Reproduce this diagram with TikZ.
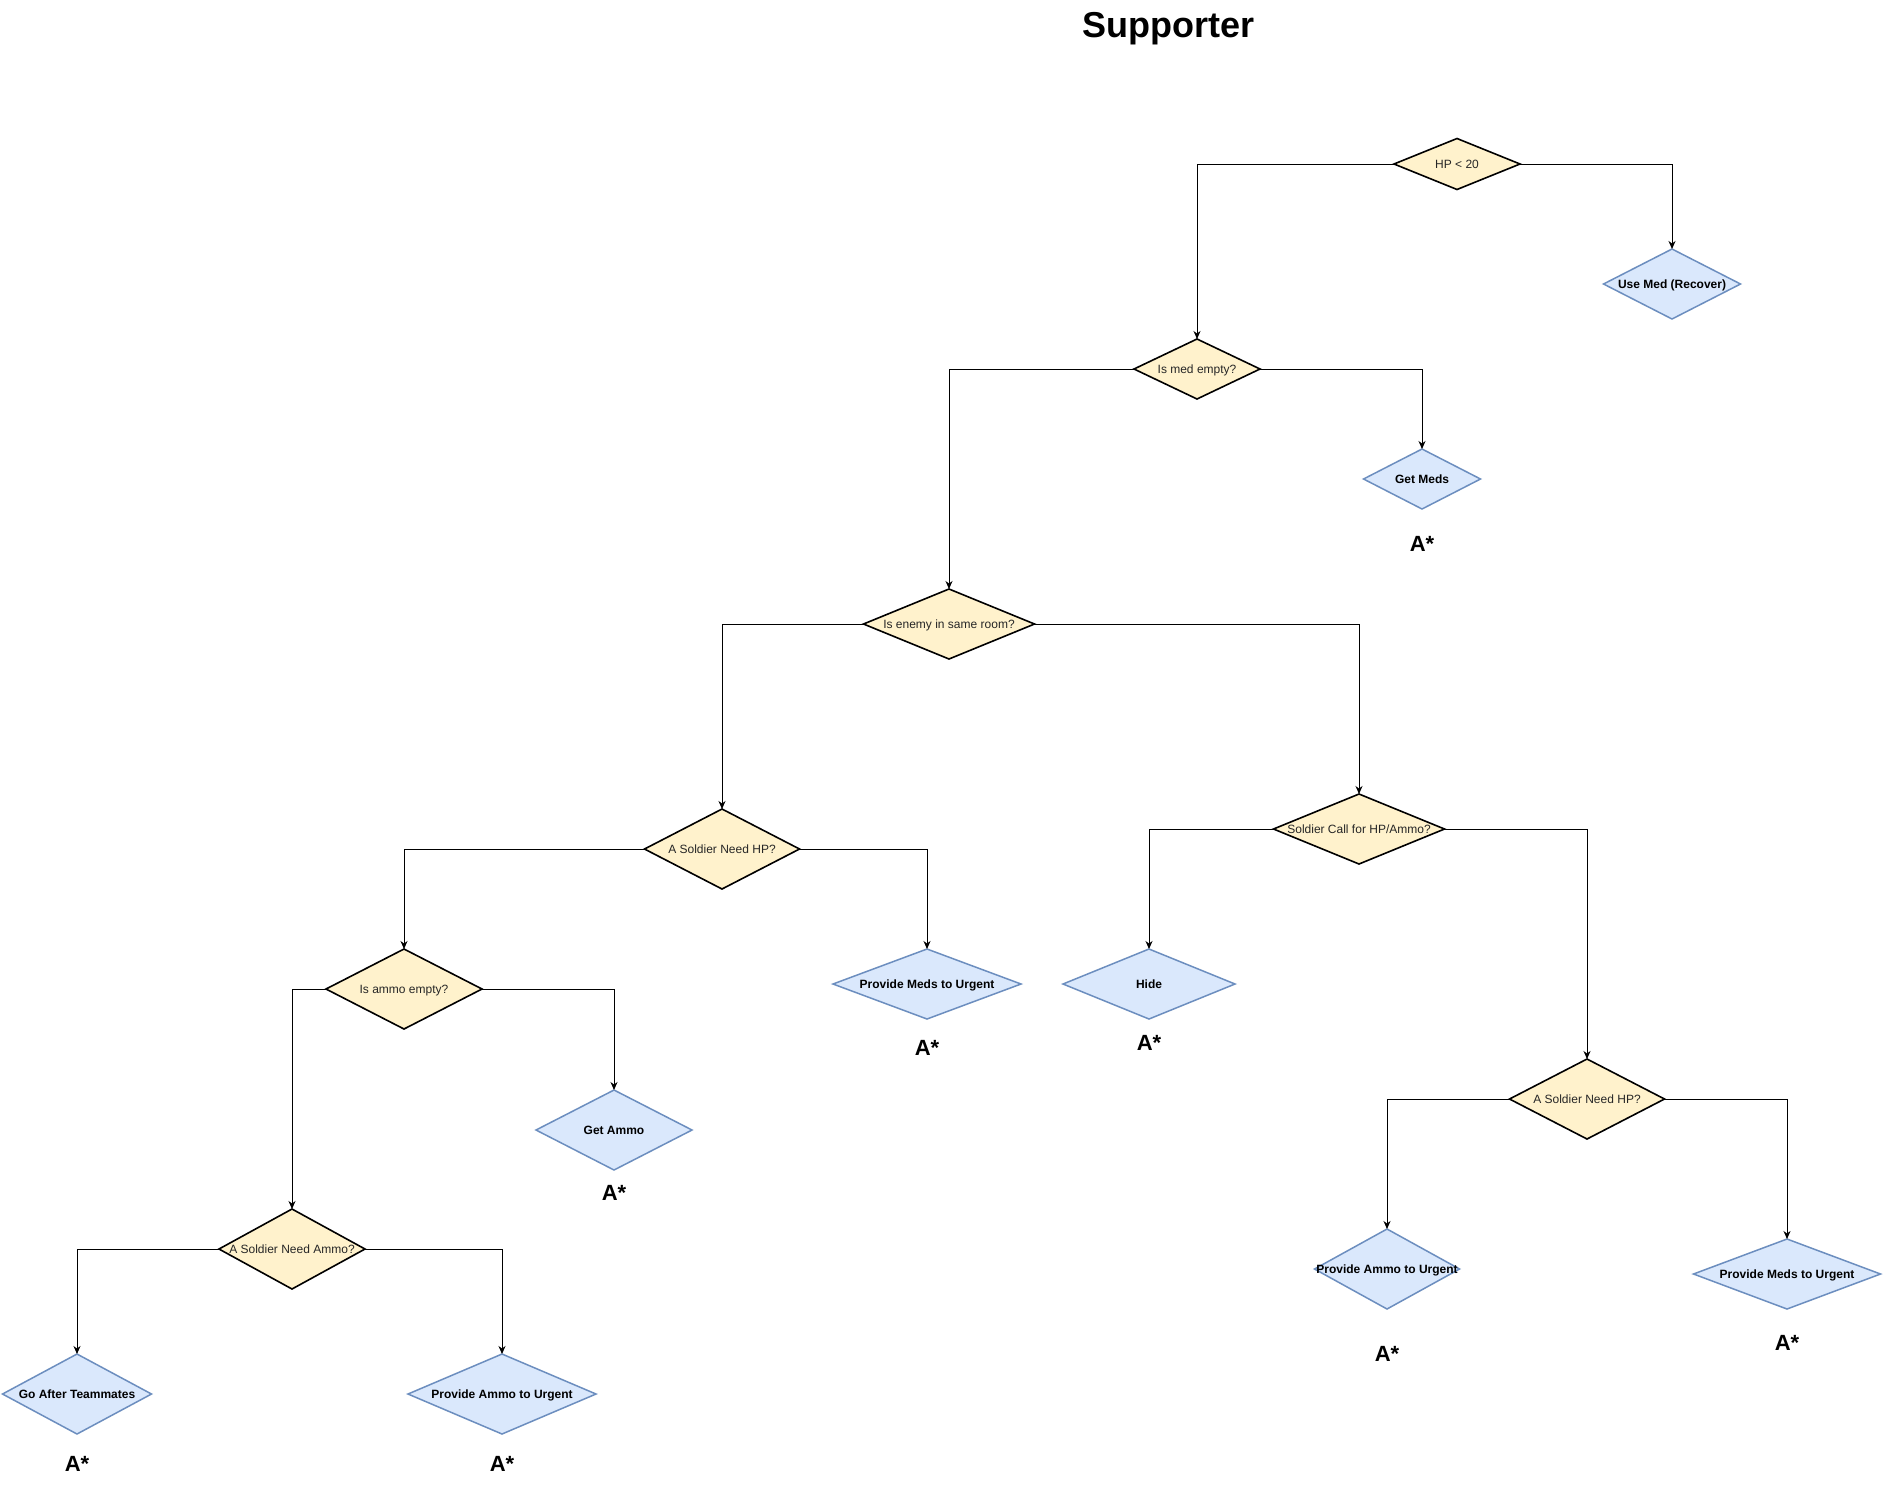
\documentclass[tikz,border=0pt]{standalone}
\usepackage{fontspec}
\setmainfont{Liberation Sans}
\usetikzlibrary{shapes.geometric,arrows.meta}
\definecolor{decfill}{HTML}{FFF2CC}
\definecolor{actfill}{HTML}{DAE8FC}
\definecolor{actline}{HTML}{6C8EBF}
\tikzset{
  dec/.style={diamond, draw=black, line width=1.6pt, fill=decfill, inner sep=0pt, outer sep=0pt},
  act/.style={diamond, draw=actline, line width=1.5pt, fill=actfill, inner sep=0pt, outer sep=0pt},
  dlbl/.style={inner sep=0pt, text=black!85, font=\fontsize{12}{14}\selectfont, text height=8.6pt, text depth=0pt},
  albl/.style={inner sep=0pt, text=black, font=\fontsize{12}{14}\selectfont\bfseries, text height=8.6pt, text depth=0pt},
  astar/.style={inner sep=0pt, font=\fontsize{22}{26}\selectfont\bfseries, text height=15.8pt, text depth=0pt},
  titlestyle/.style={inner sep=0pt, anchor=base, font=\fontsize{36}{40}\selectfont\bfseries},
  conn/.style={draw=black, line width=1pt, -{Stealth[length=8pt,width=7pt,inset=2.5pt]}}
}
\begin{document}
\begin{tikzpicture}[x=1pt,y=-1pt]
\useasboundingbox[fill=white] (0,0) rectangle (1884,1484);
\node[titlestyle] (title) at (1168,37) {Supporter};

% decisions
\node[dec, minimum width=126pt, minimum height=51pt, label={[dlbl]center:HP < 20}] (hp) at (1457,164) {};
\node[dec, minimum width=126pt, minimum height=60pt, label={[dlbl]center:Is med empty?}] (medempty) at (1197,369) {};
\node[dec, minimum width=171pt, minimum height=70pt, label={[dlbl]center:Is enemy in same room?}] (enemy) at (949,624) {};
\node[dec, minimum width=155pt, minimum height=80pt, label={[dlbl]center:A Soldier Need HP?}] (needhpa) at (722,849) {};
\node[dec, minimum width=171pt, minimum height=70pt, label={[dlbl]center:Soldier Call for HP/Ammo?}] (call) at (1359,829) {};
\node[dec, minimum width=156pt, minimum height=80pt, label={[dlbl]center:Is ammo empty?}] (ammoempty) at (404,989) {};
\node[dec, minimum width=146pt, minimum height=80pt, label={[dlbl]center:A Soldier Need Ammo?}] (needammo) at (292,1249) {};
\node[dec, minimum width=155pt, minimum height=80pt, label={[dlbl]center:A Soldier Need HP?}] (needhpb) at (1587,1099) {};

% actions
\node[act, minimum width=137pt, minimum height=70pt, label={[albl]center:Use Med (Recover)}] (usemed) at (1672,284) {};
\node[act, minimum width=117pt, minimum height=60pt, label={[albl]center:Get Meds}] (getmeds) at (1422,479) {};
\node[act, minimum width=188pt, minimum height=70pt, label={[albl]center:Provide Meds to Urgent}] (medsa) at (927,984) {};
\node[act, minimum width=172pt, minimum height=70pt, label={[albl]center:Hide}] (hide) at (1149,984) {};
\node[act, minimum width=156pt, minimum height=80pt, label={[albl]center:Get Ammo}] (getammo) at (614,1130) {};
\node[act, minimum width=149pt, minimum height=80pt, label={[albl]center:Go After Teammates}] (goafter) at (77,1394) {};
\node[act, minimum width=188pt, minimum height=80pt, label={[albl]center:Provide Ammo to Urgent}] (ammoa) at (502,1394) {};
\node[act, minimum width=145pt, minimum height=80pt, label={[albl]center:Provide Ammo to Urgent}] (ammob) at (1387,1269) {};
\node[act, minimum width=187pt, minimum height=70pt, label={[albl]center:Provide Meds to Urgent}] (medsb) at (1787,1274) {};

% A* labels
\node[astar] (s1) at (1422,544) {A*};
\node[astar] (s2) at (927,1048) {A*};
\node[astar] (s3) at (1149,1043) {A*};
\node[astar] (s4) at (614,1193) {A*};
\node[astar] (s5) at (77,1464) {A*};
\node[astar] (s6) at (502,1464) {A*};
\node[astar] (s7) at (1387,1354) {A*};
\node[astar] (s8) at (1787,1343) {A*};

% connectors
\draw[conn] (hp.west) -| (medempty.north);
\draw[conn] (hp.east) -| (usemed.north);
\draw[conn] (medempty.west) -| (enemy.north);
\draw[conn] (medempty.east) -| (getmeds.north);
\draw[conn] (enemy.west) -| (needhpa.north);
\draw[conn] (enemy.east) -| (call.north);
\draw[conn] (needhpa.west) -| (ammoempty.north);
\draw[conn] (needhpa.east) -| (medsa.north);
\draw[conn] (call.west) -| (hide.north);
\draw[conn] (call.east) -| (needhpb.north);
\draw[conn] (ammoempty.west) -| (needammo.north);
\draw[conn] (ammoempty.east) -| (getammo.north);
\draw[conn] (needammo.west) -| (goafter.north);
\draw[conn] (needammo.east) -| (ammoa.north);
\draw[conn] (needhpb.west) -| (ammob.north);
\draw[conn] (needhpb.east) -| (medsb.north);
\end{tikzpicture}
\end{document}
